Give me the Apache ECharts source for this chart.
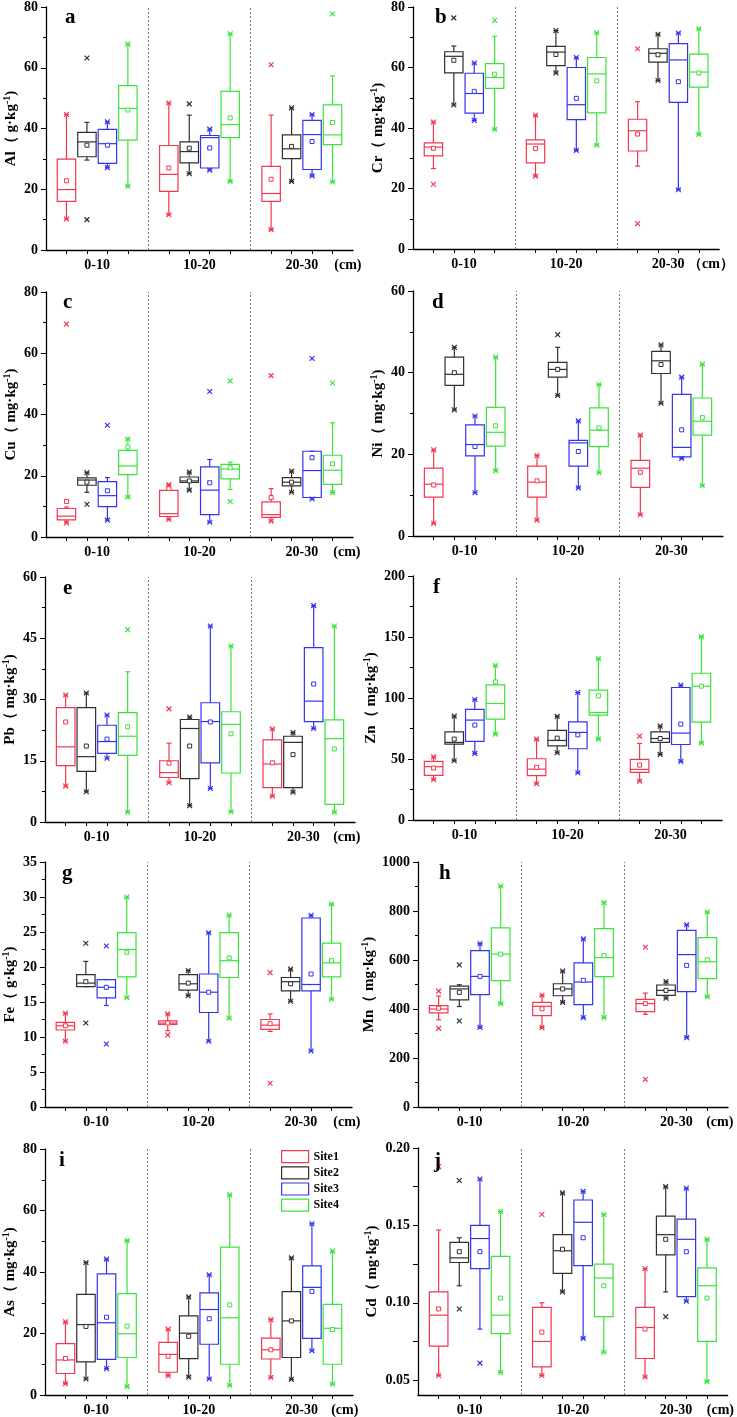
<!DOCTYPE html>
<html><head><meta charset="utf-8">
<script src="https://cdn.jsdelivr.net/npm/echarts@6/dist/echarts.min.js"></script>
<style>html,body{margin:0;padding:0;background:#fff}#c{width:737px;height:1417px}</style>
</head><body><div id="c"></div>
<script>
// Depth groups and sites
const depths = ['0-10', '10-20', '20-30'];
const sites = ['Site1', 'Site2', 'Site3', 'Site4'];
// Each row: [lowWhisker, Q1, median, Q3, highWhisker, mean, minMark, maxMark]
// Row order: 0-10 Site1..4, 10-20 Site1..4, 20-30 Site1..4
const Al = [
  [10.2, 16, 19.9, 29.9, 44.6, 22.8, 10.2, 44.6],
  [29.6, 30.7, 35.6, 38.7, 42, 34.5, 10, 63.2],
  [27.1, 28.5, 35, 39.7, 42.2, 34.5, 27.1, 42.2],
  [21, 36.2, 46.6, 54.1, 67.8, 46.1, 21, 67.8],
  [11.6, 19.3, 24.9, 34.4, 48.4, 27, 11.6, 48.4],
  [25.1, 28.7, 32.4, 35.6, 44.4, 33.5, 25.1, 48.1],
  [26.3, 27, 37, 37.7, 39.8, 33.6, 26.3, 39.8],
  [22.6, 37, 41.3, 52.2, 71.2, 43.5, 22.6, 71.2],
  [6.7, 16, 18.6, 27.5, 44.4, 23.3, 6.7, 61],
  [22.6, 30.1, 33.3, 37.9, 46.8, 34.1, 22.6, 46.8],
  [24.4, 26.5, 38, 42.7, 44.6, 35.7, 24.4, 44.6],
  [22.4, 34.7, 37.9, 47.8, 57.3, 42, 22.4, 77.7]
];
const Cr = [
  [26.6, 30.8, 33.7, 35.1, 42, 33.3, 21.4, 42],
  [47.6, 58.2, 63.7, 65.2, 67.1, 62.4, 47.6, 76.4],
  [42.5, 44.9, 51.4, 58.1, 61.5, 52.1, 42.5, 61.5],
  [39.5, 53.1, 56.7, 61.3, 70.3, 57.8, 39.5, 75.6],
  [24.1, 28.5, 34.7, 36.1, 44.2, 33.2, 24.1, 44.2],
  [58.2, 60.6, 65.1, 67, 72.2, 64.3, 58.2, 72.2],
  [32.6, 42.8, 47.7, 60, 63.3, 49.8, 32.6, 63.3],
  [34.3, 45, 57.9, 63.3, 71.5, 55.6, 34.3, 71.5],
  [27.4, 32.4, 39.1, 42.9, 48.7, 38, 8.4, 66.2],
  [55.7, 61.8, 64.7, 66.2, 71, 64.2, 55.7, 71],
  [19.6, 48.5, 62.5, 67.9, 71.4, 55.3, 19.6, 71.4],
  [37.9, 53.5, 58.5, 64.4, 72.8, 58.2, 37.9, 72.8]
];
const Cu = [
  [4.6, 5.6, 6.8, 9.3, 9.8, 11.6, 4.6, 69.5],
  [14.6, 16.9, 18.6, 19.3, 21, 17.9, 10.7, 21],
  [5.5, 9.9, 13.5, 18.1, 19.4, 15.1, 5.5, 36.5],
  [13, 20.4, 23.2, 28.3, 32, 29.4, 13, 32],
  [5.7, 6.7, 7.6, 15.2, 17.1, 15.8, 5.7, 17.1],
  [15.3, 17.8, 18.3, 19.6, 21.2, 18.3, 15.3, 21.2],
  [4.8, 7.3, 15.3, 22.9, 25.3, 17.7, 4.8, 47.5],
  [15.5, 19, 22.2, 23.7, 24.4, 22.6, 11.6, 51],
  [5.2, 6.4, 7.3, 11.5, 15.8, 12.9, 5.2, 52.7],
  [14.6, 16.7, 17.9, 19.4, 21.5, 17.9, 14.6, 21.5],
  [12.4, 12.9, 21.7, 28, 28, 25.9, 12.4, 58.3],
  [14.5, 17.2, 21.8, 26.7, 37.3, 23.9, 14.5, 50.3]
];
const Ni = [
  [3.1, 9.5, 12.7, 16.6, 21.1, 12.5, 3.1, 21.1],
  [30.9, 36.9, 39.6, 43.8, 46.2, 40, 30.9, 46.2],
  [10.6, 19.6, 22.4, 27.2, 29.4, 21.9, 10.6, 29.4],
  [16, 22, 25.4, 31.5, 43.8, 27, 16, 43.8],
  [3.9, 9.5, 13.2, 17.1, 19.7, 13.5, 3.9, 19.7],
  [34.4, 38.9, 40.8, 42.5, 46.2, 40.8, 34.4, 49.3],
  [11.8, 17.1, 22.8, 23.4, 28.2, 20.7, 11.8, 28.2],
  [15.5, 21.9, 25.9, 31.4, 37.1, 26.5, 15.5, 37.1],
  [5.2, 11.9, 16.6, 18.5, 24.7, 15.6, 5.2, 24.7],
  [32.5, 39.8, 42.9, 45.2, 46.8, 42, 32.5, 46.8],
  [19, 19.4, 21.7, 34.7, 38.9, 26, 19, 38.9],
  [12.3, 24.7, 28.1, 33.8, 42.1, 29, 12.3, 42.1]
];
const Pb = [
  [8.8, 13.8, 18.4, 28, 31.1, 24.5, 8.8, 31.1],
  [7.4, 12.4, 16, 28, 31.6, 18.6, 7.4, 31.6],
  [15.6, 16.8, 19.7, 23.7, 26.2, 20.3, 15.6, 26.2],
  [2.4, 16.3, 21, 26.8, 36.8, 23.3, 2.4, 47.1],
  [9.6, 10.9, 12.1, 15, 19.3, 14.4, 9.6, 27.7],
  [4, 10.6, 22.9, 25.1, 25.7, 18.6, 4, 25.7],
  [8.2, 14.5, 24.6, 29.2, 48, 24.5, 8.2, 48],
  [2.5, 12, 23.9, 27, 43.1, 21.6, 2.5, 43.1],
  [6.3, 8.4, 14.2, 20.1, 22.8, 14.5, 6.3, 22.8],
  [7.3, 8.4, 19.5, 21, 21.9, 16.5, 7.3, 21.9],
  [22.9, 24.6, 29.6, 42.7, 53, 33.8, 22.9, 53],
  [2.4, 4.3, 20.4, 25, 48, 17.9, 2.4, 48]
];
const Zn = [
  [33, 36.6, 43.7, 48, 51.8, 42.6, 33, 51.8],
  [48.6, 62.2, 63.6, 72.3, 85.1, 66.3, 48.6, 85.1],
  [54.6, 64.4, 81.9, 90.6, 98.8, 77.8, 54.6, 98.8],
  [70.4, 82.7, 95.5, 110.8, 126.6, 113.2, 70.4, 126.6],
  [29.7, 36.3, 41.7, 50.2, 66.3, 43.1, 29.7, 66.3],
  [55.1, 60.8, 65.2, 73.4, 84.9, 67.1, 55.1, 84.9],
  [38.7, 58.4, 71.8, 80.5, 104.5, 69.8, 38.7, 104.5],
  [66.3, 85.9, 88.1, 106.4, 132.3, 101.8, 66.3, 132.3],
  [31.9, 39, 41.5, 49.7, 62.8, 45, 31.9, 68.8],
  [53.8, 63.6, 66.8, 72.3, 76.9, 66.8, 53.8, 76.9],
  [48, 61.9, 71.2, 108.6, 110.5, 78.6, 48, 110.5],
  [63, 80.2, 109.7, 120.3, 150.3, 109.7, 63, 150.3]
];
const Fe = [
  [9.4, 11, 11.6, 12.1, 13.4, 11.6, 9.4, 13.4],
  [17.2, 17.2, 17.7, 18.9, 20.8, 17.9, 12, 23.4],
  [14.5, 15.6, 17.1, 18.2, 18.2, 17.1, 9, 23],
  [15.6, 18.6, 22.5, 24.9, 30, 22.1, 15.6, 30],
  [10.9, 11.8, 12, 12.3, 13.3, 12, 10.3, 13.3],
  [15.9, 16.7, 17.6, 18.9, 19.5, 17.7, 15.9, 19.5],
  [9.4, 13.5, 16.4, 19, 24.9, 16.4, 9.4, 24.9],
  [12.7, 18.5, 20.9, 24.9, 27.4, 21.3, 12.7, 27.4],
  [10.8, 11.1, 11.7, 12.5, 13.3, 11.9, 3.4, 19.2],
  [15.1, 16.6, 17.9, 18.5, 19.7, 17.6, 15.1, 19.7],
  [8, 16.6, 17.5, 27, 27.4, 19, 8, 27.4],
  [15.4, 18.6, 20.6, 23.4, 29, 20.9, 15.4, 29]
];
const Mn = [
  [356, 384, 400, 414, 453, 403, 321, 473],
  [410, 437, 482, 493, 499, 468, 351, 580],
  [325, 459, 533, 638, 667, 533, 325, 667],
  [422, 516, 624, 731, 902, 624, 422, 902],
  [324, 373, 411, 427, 456, 401, 324, 456],
  [427, 454, 482, 503, 555, 482, 427, 555],
  [365, 418, 510, 588, 686, 517, 365, 686],
  [365, 532, 610, 728, 834, 618, 365, 834],
  [378, 389, 422, 439, 465, 422, 113, 652],
  [444, 456, 476, 498, 512, 476, 444, 512],
  [283, 471, 622, 721, 744, 578, 283, 744],
  [450, 524, 593, 691, 796, 601, 450, 796]
];
const As = [
  [3.7, 7, 11.4, 16.7, 23.8, 11.9, 3.7, 23.8],
  [5.2, 10.8, 22.9, 32.7, 43.1, 22.3, 5.2, 43.1],
  [8.6, 11.6, 23.5, 39.4, 44.2, 25.3, 8.6, 44.2],
  [2.7, 12.2, 19.9, 33, 50.2, 22.4, 2.7, 50.2],
  [6.3, 7.4, 13.2, 17.1, 21.4, 12.6, 6.3, 21.4],
  [5.8, 11.8, 20.1, 25.7, 31.9, 19.1, 5.8, 31.9],
  [5.2, 16.5, 27.8, 33.2, 39.1, 24.8, 5.2, 39.1],
  [3.1, 10, 25.1, 48.1, 65.1, 29.3, 3.1, 65.1],
  [5.7, 11.7, 14.7, 18.5, 24.5, 14.7, 5.7, 24.5],
  [5.1, 12.2, 24.1, 33.6, 44.6, 24.1, 5.1, 44.6],
  [14.4, 18.4, 35, 42, 55.7, 33.7, 14.4, 55.7],
  [3.5, 10, 21.7, 29.5, 46.8, 21.3, 3.5, 46.8]
];
const Cd = [
  [0.053, 0.072, 0.092, 0.107, 0.147, 0.096, 0.053, 0.188],
  [0.111, 0.126, 0.129, 0.139, 0.142, 0.133, 0.096, 0.179],
  [0.083, 0.122, 0.1415, 0.150, 0.180, 0.133, 0.061, 0.180],
  [0.055, 0.080, 0.092, 0.130, 0.159, 0.103, 0.055, 0.159],
  [0.053, 0.0586, 0.075, 0.097, 0.100, 0.081, 0.053, 0.157],
  [0.107, 0.119, 0.1336, 0.144, 0.171, 0.1346, 0.107, 0.171],
  [0.077, 0.124, 0.152, 0.1664, 0.172, 0.142, 0.077, 0.172],
  [0.068, 0.091, 0.116, 0.125, 0.157, 0.111, 0.068, 0.157],
  [0.052, 0.064, 0.084, 0.097, 0.122, 0.083, 0.052, 0.122],
  [0.107, 0.131, 0.144, 0.156, 0.175, 0.141, 0.091, 0.175],
  [0.101, 0.104, 0.141, 0.154, 0.174, 0.133, 0.101, 0.174],
  [0.049, 0.075, 0.111, 0.1226, 0.141, 0.103, 0.049, 0.141]
];
const elements = ['Al', 'Cr', 'Cu', 'Ni', 'Pb', 'Zn', 'Fe', 'Mn', 'As', 'Cd'];
const units = ['g·kg', 'mg·kg', 'mg·kg', 'mg·kg', 'mg·kg', 'mg·kg', 'g·kg', 'mg·kg', 'mg·kg', 'mg·kg'];
const letters = ['a', 'b', 'c', 'd', 'e', 'f', 'g', 'h', 'i', 'j'];
const datasets = [Al, Cr, Cu, Ni, Pb, Zn, Fe, Mn, As, Cd];
const yMax = [80, 80, 80, 60, 60, 200, 35, 1000, 80, 0.2];
const yMin = [0, 0, 0, 0, 0, 0, 0, 0, 0, 0.0404];
const yStep = [20, 20, 20, 20, 15, 50, 5, 200, 20, null];
const cdLabels = [0.05, 0.10, 0.15, 0.20];
const cdTicks = [0.05, 0.075, 0.10, 0.125, 0.15, 0.175, 0.20];

// ---- layout / style ----
const FONT = '"Liberation Serif","Times New Roman",serif';
const colors = ['#f2384f', '#303030', '#3434f0', '#3be43b'];
const layout = [
  {left: 46, top: 7, width: 307, height: 243, gap: 24, cm: '(cm)', cmPos: 2.95, lx: 60, ly: 2},
  {left: 413, top: 5, width: 310, height: 244, gap: 22, cm: '（cm）', cmPos: 2.92, lx: 430, ly: 2},
  {left: 46, top: 292, width: 307, height: 245, gap: 24, cm: '(cm)', cmPos: 2.94, lx: 58, ly: 287},
  {left: 413, top: 291, width: 310, height: 245, gap: 22, cm: '（cm）', cmPos: 2.83, lx: 427, ly: 287},
  {left: 45, top: 577, width: 310, height: 245, gap: 22, cm: '(cm)', cmPos: 2.92, lx: 58, ly: 573},
  {left: 413, top: 576, width: 309, height: 244, gap: 26, cm: '（cm）', cmPos: 2.84, lx: 428, ly: 572},
  {left: 41, top: 862, width: 311, height: 245, gap: 22, cm: '(cm)', cmPos: 2.95, lx: 57, ly: 858},
  {left: 418, top: 862, width: 310, height: 245, gap: 29, cm: '(cm)', cmPos: 2.92, lx: 434, ly: 858},
  {left: 41, top: 1149, width: 312, height: 249, gap: 21, cm: '(cm)', cmPos: 2.92, lx: 54, ly: 1145},
  {left: 418, top: 1148, width: 312, height: 249, gap: 29, cm: '(cm)', cmPos: 2.93, lx: 429, ly: 1146}
];

function renderBox(params, api) {
  const x = api.value(0);
  const col = api.visual('color');
  const bw = api.size([0.18, 0])[0];
  const hw = bw / 2;
  const P = i => api.coord([x, api.value(i)]);
  const low = P(1), q1 = P(2), med = P(3), q3 = P(4), high = P(5), mean = P(6), mn = P(7), mx = P(8);
  const cx = low[0];
  const st = {stroke: col, lineWidth: 1.2, fill: 'none'};
  const line = (x1, y1, x2, y2) => ({type: 'line', shape: {x1, y1, x2, y2}, style: st});
  const cross = p => [line(p[0] - 2.4, p[1] - 2.4, p[0] + 2.4, p[1] + 2.4), line(p[0] - 2.4, p[1] + 2.4, p[0] + 2.4, p[1] - 2.4)];
  const children = [
    line(cx, q3[1], cx, high[1]), line(cx, q1[1], cx, low[1]),
    line(cx - 2.5, high[1], cx + 2.5, high[1]), line(cx - 2.5, low[1], cx + 2.5, low[1]),
    {type: 'rect', shape: {x: cx - hw, y: q3[1], width: bw, height: q1[1] - q3[1]}, style: {stroke: col, fill: 'none', lineWidth: 1.2}},
    line(cx - hw, med[1], cx + hw, med[1]),
    {type: 'rect', shape: {x: mean[0] - 2, y: mean[1] - 2, width: 4, height: 4}, style: {stroke: col, fill: '#fff', lineWidth: 1}},
    ...cross(mn), ...cross(mx)
  ];
  return {type: 'group', children};
}

const grids = [], xAxes = [], yAxes = [], series = [], titles = [];
const boxTicks = [];
for (let g = 0; g < 3; g++) for (let s = 0; s < 4; s++) boxTicks.push(+(g + 0.2 * (s + 1)).toFixed(2));

datasets.forEach((arr, p) => {
  const L = layout[p];
  grids.push({left: L.left, top: L.top, width: L.width, height: L.height});
  const labelVals = [0.5, 1.5, 2.5, L.cmPos];
  const labelTexts = depths.concat([L.cm]);
  xAxes.push({
    type: 'value', gridIndex: p, min: 0, max: 3,
    splitLine: {show: false},
    axisLine: {lineStyle: {color: '#000', width: 1.3}},
    axisTick: {show: true, length: 4, customValues: boxTicks, lineStyle: {color: '#000', width: 1}},
    axisLabel: {
      customValues: labelVals, margin: 8,
      fontFamily: FONT, fontWeight: 'bold', fontSize: 14, color: '#000',
      formatter: v => {
        for (let k = 0; k < labelVals.length; k++) if (Math.abs(v - labelVals[k]) < 1e-6) return labelTexts[k];
        return '';
      }
    }
  });
  const y = {
    type: 'value', gridIndex: p, min: yMin[p], max: yMax[p],
    name: elements[p] + '（ ' + units[p] + '{sup|-1})', nameLocation: 'middle', nameGap: L.gap, nameRotate: 90,
    nameTextStyle: {fontFamily: FONT, fontWeight: 'bold', fontSize: 15, color: '#000', lineHeight: 18,
      rich: {sup: {fontFamily: FONT, fontWeight: 'bold', fontSize: 10, color: '#000', verticalAlign: 'top', lineHeight: 18, padding: [0, 0, 6, 0]}}},
    splitLine: {show: false},
    axisLine: {show: true, lineStyle: {color: '#000', width: 1.3}},
    axisTick: {show: true, length: 5, lineStyle: {color: '#000', width: 1}},
    axisLabel: {fontFamily: FONT, fontWeight: 'bold', fontSize: 14, color: '#000', margin: 8, formatter: v => String(v)}
  };
  if (yStep[p] != null) {
    y.interval = yStep[p];
    y.minorTick = {show: true, splitNumber: 2, length: 3, lineStyle: {color: '#000', width: 1}};
  } else {
    y.axisTick.customValues = cdTicks;
    y.axisLabel.customValues = cdLabels;
    y.axisLabel.formatter = v => v.toFixed(2);
  }
  yAxes.push(y);
  titles.push({text: letters[p], left: L.lx, top: L.ly,
    textStyle: {fontFamily: FONT, fontWeight: 'bold', fontSize: 21, color: '#000'}});
  sites.forEach((site, s) => {
    const data = [];
    arr.forEach((row, i) => {
      if (i % 4 === s) data.push([Math.floor(i / 4) + 0.2 * (s + 1)].concat(row));
    });
    const ser = {
      type: 'custom', name: site, xAxisIndex: p, yAxisIndex: p,
      itemStyle: {color: colors[s]},
      renderItem: renderBox, data: data,
      encode: {x: 0, y: [1, 2, 3, 4, 5, 6, 7, 8]},
      silent: true
    };
    if (s === 0) {
      ser.markLine = {
        silent: true, symbol: 'none', label: {show: false},
        lineStyle: {type: [2, 2], color: '#777', width: 1},
        data: [{xAxis: 1}, {xAxis: 2}]
      };
    }
    series.push(ser);
  });
});

const chart = echarts.init(document.getElementById('c'), null, {renderer: 'canvas'});
chart.setOption({
  animation: false,
  backgroundColor: '#fff',
  title: titles,
  grid: grids,
  xAxis: xAxes,
  yAxis: yAxes,
  legend: {
    left: 281, top: 1150, orient: 'vertical', itemWidth: 27, itemHeight: 12, itemGap: 3, padding: 0,
    textStyle: {fontFamily: FONT, fontWeight: 'bold', fontSize: 12, color: '#000'},
    selectedMode: false,
    data: sites.map((s, i) => ({name: s, icon: 'rect', itemStyle: {color: '#fff', borderColor: colors[i], borderWidth: 1.2}}))
  },
  series: series
});
</script></body></html>
